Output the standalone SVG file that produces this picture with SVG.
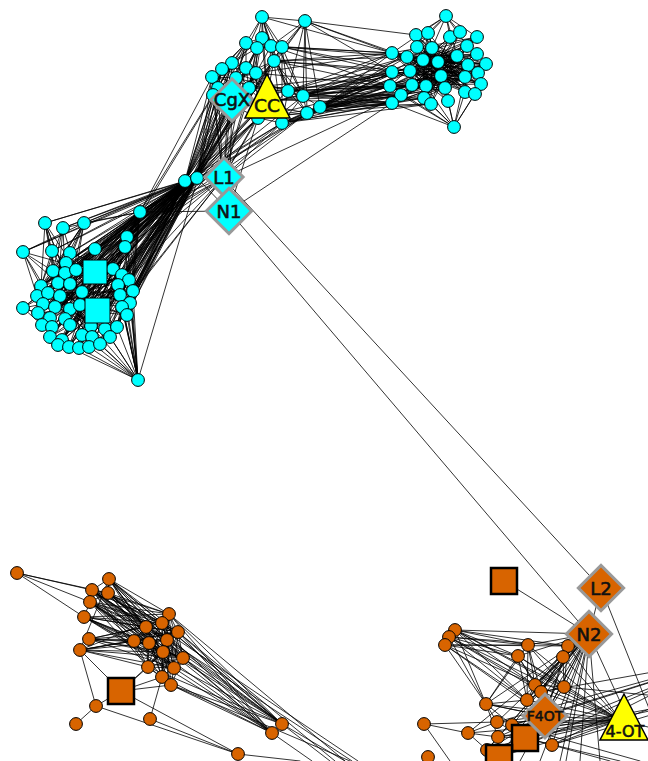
<svg xmlns="http://www.w3.org/2000/svg" width="648" height="761" viewBox="0 0 648 761">
<style>
.e{fill:none;stroke:#000;stroke-width:0.8;stroke-linecap:round}
.cy circle{fill:#00ffff;stroke:#000;stroke-width:1;r:6.4px}
.or circle{fill:#d86400;stroke:#000;stroke-width:1;r:6.4px}
.dc{fill:#00ffff;stroke:#999;stroke-width:3}
.do{fill:#d86400;stroke:#999;stroke-width:3}
.sc{fill:#00ffff;stroke:#000;stroke-width:1}
.so{fill:#d86400;stroke:#000;stroke-width:2.5}
.tri{fill:#ffff00;stroke:#000;stroke-width:1.5}
.lb{font-family:"DejaVu Sans","Liberation Sans",sans-serif;fill:#111;stroke:#111;stroke-width:0.6;text-anchor:middle}
</style>
<rect width="648" height="761" fill="#fff"/>
<g id="connectors">
<!-- upper-middle cluster -->
<path class="e" d="M262 17L305 21M262 17L262 38M262 17L246 43M262 17L271 46M262 17L282 47M262 17L274 61M262 17L249 88M262 17L288 91M262 17L303 96M262 17L267 90M305 21L282 47M305 21L274 61M305 21L288 91M305 21L303 96M305 21L320 107M305 21L307 113M305 21L271 46M262 38L246 43M262 38L257 48M262 38L271 46M262 38L232 63M262 38L246 68M262 38L256 73M262 38L249 88M262 38L267 95M246 43L257 48M246 43L232 63M246 43L222 69M246 43L246 68M246 43L212 77M246 43L213 95M246 43L232 100M257 48L271 46M257 48L282 47M257 48L246 68M257 48L256 73M257 48L249 88M257 48L232 63M271 46L282 47M271 46L274 61M271 46L256 73M271 46L288 91M271 46L267 95M282 47L274 61M282 47L288 91M282 47L303 96M282 47L282 123M274 61L256 73M274 61L249 88M274 61L288 91M274 61L303 96M274 61L307 113M274 61L282 123M274 61L267 95M232 63L222 69M232 63L246 68M232 63L212 77M232 63L218 88M232 63L213 95M232 63L232 100M232 63L249 88M222 69L212 77M222 69L218 88M222 69L213 95M222 69L246 68M222 69L232 100M246 68L256 73M246 68L249 88M246 68L218 88M246 68L213 95M246 68L232 100M246 68L267 95M256 73L249 88M256 73L267 95M256 73L258 118M256 73L232 100M212 77L213 95M212 77L218 88M212 77L232 100M213 95L232 100M213 95L218 88M213 95L258 118M249 88L288 91M249 88L258 118M249 88L282 123M249 88L267 95M288 91L303 96M288 91L307 113M288 91L282 123M288 91L267 95M303 96L320 107M303 96L307 113M303 96L282 123M320 107L307 113M320 107L282 123M307 113L282 123M307 113L258 118M282 123L258 118M282 123L267 100M232 100L267 100M236 78L212 77M236 78L256 73M236 78L246 43M236 78L274 61M236 78L288 91M212 77L303 96M213 95L307 113M222 69L288 91"/>
<!-- bundle between the two upper clusters -->
<path class="e" d="M320 107L392 53M320 107L407 57M320 107L392 72M320 107L410 71M320 107L390 86M320 107L412 85M320 107L401 95M320 107L392 103M320 107L424 98M320 107L431 104M303 96L392 53M303 96L392 72M303 96L390 86M303 96L401 95M303 96L392 103M303 96L410 71M303 96L423 60M307 113L392 72M307 113L390 86M307 113L401 95M307 113L392 103M307 113L412 85M307 113L424 98M307 113L441 76M288 91L392 53M288 91L392 72M288 91L390 86M288 91L401 95M288 91L426 86M282 123L390 86M282 123L392 103M282 123L401 95M282 123L431 104M282 123L392 72M282 47L392 53M282 47L407 57M282 47L392 72M274 61L392 53M274 61L392 72M274 61L390 86M274 61L407 57M280 100L392 72M280 100L390 86M280 100L401 95M249 88L392 72M249 88L390 86M256 73L392 53M256 73L390 86M305 21L392 53M305 21L416 35M305 21L407 57M305 21L392 72M262 17L392 53M320 107L438 62M320 107L445 88M320 107L426 86M320 107L423 60M303 96L412 85M303 96L424 98M303 96L441 76M307 113L410 71M307 113L431 104M307 113L426 86M288 91L410 71M288 91L412 85M288 91L392 103M288 91L407 57M282 123L412 85M282 123L424 98M280 100L392 103M280 100L410 71M258 118L390 86M258 118L401 95M258 118L392 103M274 61L410 71M282 47L410 71M271 46L392 53M271 46L390 86M303 96L407 57M320 107L417 47"/>
<!-- upper-right cluster -->
<path class="e" d="M446 16L416 35M446 16L428 33M446 16L450 37M446 16L460 32M446 16L477 37M446 16L417 47M446 16L432 48M446 16L467 46M446 16L392 53M446 16L457 56M454 127L390 86M454 127L401 95M454 127L424 98M454 127L392 103M454 127L431 104M454 127L448 101M454 127L445 88M454 127L465 92M454 127L475 94M454 127L426 86M454 127L465 77M454 127L481 84M438 62L416 35M438 62L428 33M438 62L450 37M438 62L460 32M438 62L477 37M438 62L417 47M438 62L432 48M438 62L467 46M438 62L477 54M438 62L486 64M438 62L392 53M438 62L407 57M438 62L468 65M438 62L392 72M438 62L465 77M438 62L478 73M438 62L481 84M438 62L390 86M438 62L412 85M438 62L465 92M438 62L475 94M438 62L401 95M438 62L392 103M438 62L448 101M441 76L416 35M441 76L428 33M441 76L460 32M441 76L477 37M441 76L417 47M441 76L467 46M441 76L477 54M441 76L486 64M441 76L392 53M441 76L407 57M441 76L468 65M441 76L392 72M441 76L478 73M441 76L481 84M441 76L390 86M441 76L412 85M441 76L475 94M441 76L401 95M441 76L424 98M441 76L392 103M441 76L431 104M441 76L448 101M445 88L416 35M445 88L417 47M445 88L432 48M445 88L457 56M445 88L467 46M445 88L477 54M445 88L486 64M445 88L392 53M445 88L407 57M445 88L423 60M445 88L392 72M445 88L410 71M445 88L478 73M445 88L390 86M445 88L401 95M445 88L392 103M423 60L428 33M423 60L450 37M423 60L477 37M423 60L457 56M423 60L467 46M423 60L477 54M423 60L486 64M423 60L468 65M423 60L465 77M423 60L478 73M423 60L481 84M423 60L426 86M423 60L465 92M423 60L475 94M423 60L424 98M423 60L431 104M457 56L416 35M457 56L417 47M457 56L392 53M457 56L407 57M457 56L392 72M457 56L410 71M457 56L390 86M457 56L412 85M457 56L426 86M457 56L401 95M457 56L424 98M457 56L392 103M457 56L431 104M410 71L450 37M410 71L460 32M410 71L477 37M410 71L467 46M410 71L477 54M410 71L486 64M410 71L468 65M410 71L465 77M410 71L478 73M410 71L481 84M410 71L465 92M410 71L475 94M410 71L448 101M392 53L477 37M392 53L486 64M392 53L481 84M390 86L486 64M390 86L481 84M390 86L477 54M392 103L478 73M392 103L477 54M401 95L486 64M424 98L477 37M416 35L475 94M428 33L448 101M432 48L465 92M407 57L478 73M432 48L392 72M432 48L390 86M432 48L412 85M432 48L426 86M432 48L445 88M432 48L475 94M432 48L481 84M432 48L478 73M432 48L468 65M432 48L486 64M432 48L401 95M432 48L424 98M432 48L431 104M432 48L448 101M426 86L416 35M426 86L428 33M426 86L450 37M426 86L460 32M426 86L477 37M426 86L467 46M426 86L477 54M426 86L486 64M426 86L468 65M426 86L478 73M426 86L392 53M426 86L407 57M465 77L416 35M465 77L417 47M465 77L392 53M465 77L407 57M465 77L392 72M465 77L390 86M465 77L412 85M465 77L401 95M465 77L392 103M465 77L424 98M465 77L428 33M407 57L477 37M407 57L477 54M407 57L486 64M407 57L468 65M407 57L481 84M407 57L465 92M407 57L475 94M407 57L448 101M407 57L431 104"/>
<!-- neck: hubs, L1 and N1 -->
<path class="e" d="M185 181L232 63M185 181L222 69M185 181L212 77M185 181L213 95M185 181L218 88M185 181L232 100M185 181L246 68M185 181L249 88M185 181L258 118M185 181L256 73M185 181L267 100M185 181L236 78M185 181L246 43M185 181L282 123M197 178L232 63M197 178L222 69M197 178L212 77M197 178L213 95M197 178L218 88M197 178L232 100M197 178L246 68M197 178L249 88M197 178L258 118M197 178L256 73M197 178L267 100M197 178L236 78M197 178L262 38M197 178L274 61M185 181L197 178M185 181L140 212M185 181L45 223M185 181L63 228M185 181L84 223M185 181L127 237M185 181L125 247M185 181L23 252M185 181L52 251M185 181L95 249M185 181L70 253M185 181L66 263M185 181L23 308M185 181L53 271M185 181L65 273M185 181L76 270M185 181L113 269M185 181L122 275M185 181L41 286M185 181L58 283M185 181L70 284M185 181L129 280M185 181L118 285M185 181L37 296M185 181L48 293M185 181L60 296M185 181L82 292M185 181L133 291M185 181L120 295M185 181L43 304M185 181L55 307M185 181L70 309M185 181L130 303M185 181L122 307M185 181L38 313M185 181L50 318M185 181L65 319M185 181L127 315M185 181L42 325M185 181L52 327M185 181L70 325M185 181L91 326M185 181L105 329M185 181L117 327M185 181L50 337M185 181L62 340M185 181L82 335M185 181L92 337M185 181L110 337M185 181L58 345M185 181L69 347M185 181L79 348M185 181L89 347M185 181L100 344M185 181L95 272M185 181L97 310M197 178L140 212M197 178L45 223M197 178L63 228M197 178L84 223M197 178L127 237M197 178L125 247M197 178L23 252M197 178L52 251M197 178L95 249M197 178L70 253M197 178L66 263M197 178L53 271M197 178L65 273M197 178L76 270M197 178L113 269M197 178L122 275M197 178L41 286M197 178L58 283M197 178L70 284M197 178L129 280M197 178L118 285M197 178L37 296M197 178L48 293M197 178L82 292M197 178L133 291M197 178L120 295M197 178L43 304M197 178L55 307M197 178L130 303M197 178L122 307M197 178L38 313M197 178L50 318M197 178L127 315M197 178L42 325M197 178L91 326M197 178L117 327M197 178L50 337M197 178L82 335M197 178L110 337M197 178L58 345M197 178L69 347M197 178L89 347M197 178L100 344M197 178L95 272M197 178L97 310M223 178L232 63M223 178L212 77M223 178L213 95M223 178L218 88M223 178L232 100M223 178L246 68M223 178L249 88M223 178L258 118M223 178L267 100M223 178L282 123M223 178L256 73M223 178L307 113M223 178L140 212M223 178L127 237M223 178L125 247M223 178L95 249M223 178L113 269M223 178L129 280M223 178L401 95M223 178L133 291M223 178L122 307M229 211L223 178M229 211L392 103M229 211L232 100M229 211L258 118M229 211L140 212M229 211L197 178M223 178L601 588M229 211L589 634M282 123L140 212M282 123L127 237M320 107L140 212M303 96L127 237M267 100L125 247M267 100L113 269M258 118L113 269M258 118L122 275M258 118L125 247M307 113L140 212M307 113L127 237M288 91L127 237M274 61L122 275M249 88L120 295M246 68L117 327M232 100L110 337M256 73L122 307M256 73L130 303M262 38L127 315M282 47L118 285M282 47L120 295M305 21L122 275M262 17L117 327M232 63L138 380M212 77L140 212M213 95L140 212M218 88L127 237"/>
<!-- left cluster -->
<path class="e" d="M140 212L53 271M140 212L41 286M140 212L37 296M140 212L43 304M140 212L38 313M140 212L42 325M140 212L50 337M140 212L58 345M140 212L69 347M140 212L79 348M140 212L89 347M140 212L100 344M140 212L110 337M140 212L117 327M140 212L127 315M140 212L130 303M140 212L133 291M140 212L129 280M140 212L122 275M140 212L113 269M140 212L76 270M140 212L65 273M140 212L58 283M140 212L48 293M140 212L55 307M140 212L50 318M140 212L62 340M140 212L91 326M140 212L84 223M140 212L63 228M140 212L127 237M140 212L125 247M140 212L95 249M127 237L41 286M127 237L37 296M127 237L43 304M127 237L38 313M127 237L42 325M127 237L50 337M127 237L58 345M127 237L69 347M127 237L79 348M127 237L53 271M127 237L48 293M127 237L50 318M125 247L37 296M125 247L42 325M125 247L50 337M125 247L62 340M125 247L89 347M125 247L100 344M125 247L52 327M125 247L55 307M138 380L100 344M138 380L110 337M138 380L117 327M138 380L127 315M138 380L130 303M138 380L133 291M138 380L122 307M138 380L89 347M138 380L105 329M138 380L92 337M138 380L82 335M138 380L129 280M138 380L120 295M138 380L118 285M138 380L122 275M138 380L113 269M138 380L79 348M138 380L69 347M138 380L91 326M138 380L125 247M138 380L127 237M95 272L41 286M95 272L37 296M95 272L38 313M95 272L42 325M95 272L50 337M95 272L58 345M95 272L69 347M95 272L89 347M95 272L110 337M95 272L127 315M95 272L133 291M95 272L23 252M97 310L53 271M97 310L41 286M97 310L37 296M97 310L43 304M97 310L38 313M97 310L50 337M97 310L58 345M97 310L65 273M97 310L76 270M97 310L113 269M97 310L122 275M97 310L129 280M82 292L53 271M82 292L37 296M82 292L42 325M82 292L50 337M82 292L100 344M82 292L117 327M82 292L130 303M82 292L129 280M82 292L65 273M82 292L122 275M70 309L53 271M70 309L76 270M70 309L113 269M70 309L122 275M70 309L133 291M70 309L127 315M70 309L110 337M70 309L100 344M70 309L41 286M70 309L38 313M58 283L100 344M58 283L117 327M58 283L130 303M58 283L89 347M58 283L129 280M91 326L41 286M91 326L53 271M91 326L37 296M91 326L113 269M91 326L129 280M84 223L53 271M84 223L41 286M84 223L65 273M84 223L76 270M84 223L58 283M84 223L48 293M84 223L37 296M84 223L70 284M84 223L23 252M45 223L53 271M45 223L41 286M45 223L65 273M45 223L58 283M45 223L76 270M45 223L70 284M45 223L52 251M63 228L53 271M63 228L65 273M63 228L41 286M63 228L76 270M63 228L58 283M23 252L53 271M23 252L41 286M23 252L37 296M23 252L58 283M23 252L48 293M23 308L37 296M23 308L43 304M23 308L38 313M23 308L42 325M23 308L48 293M23 308L50 318M52 251L53 271M52 251L65 273M52 251L41 286M52 251L76 270M95 249L53 271M95 249L65 273M95 249L76 270M95 249L41 286M95 249L58 283M95 249L113 269M70 253L41 286M70 253L53 271M70 253L37 296M70 253L113 269M66 263L41 286M66 263L37 296M66 263L113 269M60 296L122 307M60 296L127 315M48 293L133 291M55 307L122 275M65 319L129 280M62 340L120 295M80 305L118 285M70 325L133 291M43 304L130 303M50 318L118 285M42 325L122 275M52 327L113 269M69 347L118 285M79 348L129 280M105 329L41 286M92 337L48 293M37 296L133 291M41 286L127 315M38 313L122 275M50 337L129 280M58 345L113 269M43 304L117 327M48 293L110 337M53 271L100 344M65 273L89 347M76 270L79 348"/>
<!-- lower-left cluster -->
<path class="e" d="M17 573L92 590M17 573L90 602M17 573L84 617M17 573L108 593M109 579L169 614M109 579L162 623M109 579L146 627M109 579L178 632M109 579L149 643M109 579L167 640M109 579L163 652M109 579L183 658M109 579L174 668M109 579L282 724M109 579L272 733M109 579L92 590M109 579L108 593M92 590L169 614M92 590L162 623M92 590L146 627M92 590L178 632M92 590L134 641M92 590L149 643M92 590L167 640M92 590L163 652M92 590L183 658M92 590L148 667M92 590L174 668M92 590L282 724M92 590L272 733M92 590L108 593M92 590L90 602M108 593L169 614M108 593L162 623M108 593L146 627M108 593L178 632M108 593L149 643M108 593L167 640M108 593L183 658M108 593L174 668M108 593L282 724M108 593L272 733M108 593L90 602M90 602L169 614M90 602L162 623M90 602L146 627M90 602L178 632M90 602L134 641M90 602L149 643M90 602L167 640M90 602L163 652M90 602L183 658M90 602L174 668M90 602L148 667M90 602L282 724M90 602L272 733M90 602L84 617M84 617L169 614M84 617L162 623M84 617L146 627M84 617L178 632M84 617L134 641M84 617L149 643M84 617L163 652M84 617L183 658M84 617L174 668M84 617L272 733M169 614L162 623M169 614L146 627M169 614L178 632M169 614L149 643M169 614L167 640M169 614L163 652M169 614L183 658M169 614L174 668M169 614L282 724M169 614L272 733M162 623L146 627M162 623L178 632M162 623L134 641M162 623L149 643M162 623L167 640M162 623L163 652M162 623L183 658M162 623L148 667M162 623L174 668M162 623L162 677M162 623L282 724M146 627L178 632M146 627L134 641M146 627L149 643M146 627L167 640M146 627L163 652M146 627L148 667M146 627L174 668M146 627L162 677M146 627L171 685M178 632L134 641M178 632L149 643M178 632L167 640M178 632L163 652M178 632L183 658M178 632L148 667M178 632L174 668M178 632L162 677M178 632L282 724M178 632L272 733M134 641L149 643M134 641L167 640M134 641L163 652M134 641L183 658M134 641L148 667M134 641L174 668M134 641L162 677M134 641L89 639M134 641L80 650M149 643L167 640M149 643L163 652M149 643L183 658M149 643L148 667M149 643L174 668M149 643L162 677M149 643L171 685M167 640L163 652M167 640L183 658M167 640L148 667M167 640L174 668M167 640L162 677M167 640L171 685M167 640L282 724M163 652L183 658M163 652L148 667M163 652L174 668M163 652L162 677M163 652L171 685M183 658L148 667M183 658L174 668M183 658L162 677M183 658L171 685M183 658L282 724M183 658L272 733M148 667L174 668M148 667L162 677M148 667L171 685M174 668L162 677M174 668L171 685M174 668L272 733M162 677L171 685M162 677L150 719M89 639L146 627M89 639L149 643M89 639L167 640M89 639L163 652M89 639L183 658M89 639L174 668M89 639L178 632M89 639L162 623M80 650L134 641M80 650L149 643M80 650L163 652M80 650L183 658M80 650L174 668M80 650L148 667M80 650L178 632M80 650L121 691M80 650L96 706M80 650L169 614M121 691L162 677M121 691L171 685M121 691L148 667M121 691L238 754M121 691L96 706M121 691L163 652M96 706L76 724M96 706L238 754M150 719L238 754M171 685L272 733M171 685L282 724M171 685L350 761M282 724L345 761M282 724L330 761M272 733L312 761M92 590L352 761M108 593L358 761M169 614L345 761M178 632L335 761M238 754L300 761M84 617L282 724M109 579L80 650M162 677L272 733M148 667L282 724"/>
<!-- lower-right cluster -->
<path class="e" d="M504 581L589 634M601 588L589 634M601 588L670 761M589 634L568 646M589 634L563 657M589 634L564 687M589 634L535 685M589 634L541 692M589 634L527 700M589 634L545 716M589 634L497 722M589 634L512 725M589 634L498 737M589 634L552 745M589 634L525 738M589 634L499 757M589 634L487 750M589 634L468 733M589 634L624 710M589 634L528 645M589 634L518 656M589 634L486 704M589 634L520 761M589 634L540 761M589 634L560 761M589 634L580 761M589 634L600 761M589 634L566 761M455 630L528 645M455 630L518 656M455 630L486 704M455 630L527 700M455 630L535 685M455 630L568 646M449 637L528 645M449 637L518 656M449 637L486 704M449 637L527 700M449 637L535 685M449 637L568 646M445 645L528 645M445 645L518 656M445 645L486 704M445 645L527 700M445 645L535 685M445 645L568 646M528 645L518 656M528 645L486 704M528 645L527 700M528 645L535 685M528 645L541 692M528 645L564 687M528 645L620 720M518 656L486 704M518 656L527 700M518 656L535 685M518 656L541 692M518 656L564 687M518 656L620 720M568 646L563 657M568 646L564 687M568 646L535 685M568 646L541 692M568 646L527 700M568 646L620 720M568 646L545 716M563 657L564 687M563 657L535 685M563 657L541 692M563 657L545 716M563 657L620 720M563 657L527 700M486 704L527 700M486 704L497 722M486 704L512 725M486 704L498 737M486 704L545 716M424 724L468 733M424 724L497 722M424 724L450 761M468 733L497 722M468 733L498 737M468 733L487 750M620 720L545 716M620 720L525 738M620 720L552 745M620 720L512 725M620 720L497 722M620 720L498 737M620 720L541 692M620 720L535 685M620 720L527 700M620 720L564 687M620 720L486 704M620 720L499 757M620 720L487 750M620 720L468 733M620 720L455 630M620 720L449 637M620 720L700 690M620 720L700 740M620 720L690 770M545 716L527 700M545 716L541 692M545 716L535 685M545 716L564 687M545 716L512 725M545 716L497 722M545 716L498 737M545 716L525 738M545 716L552 745M545 716L499 757M545 716L487 750M545 716L486 704M564 687L535 685M541 692L527 700M535 685L527 700M564 687L541 692M525 738L497 722M525 738L512 725M525 738L498 737M525 738L552 745M525 738L499 757M525 738L487 750M487 750L498 737M487 750L499 757M525 738L720 660M552 745L720 660M545 716L720 660M541 692L720 660M512 725L720 660M499 757L720 660M552 745L700 700M525 738L700 700M564 687L700 700M552 745L610 761M525 738L620 761M512 725L640 761M455 630L564 687M449 637L541 692M445 645L545 716M589 634L455 630M497 722L720 660M498 737L700 700"/>
</g>
<g class="cy" id="cluster-top">
<g id="t01"><circle cx="262" cy="17" r="6.4"/></g>
<g id="t02"><circle cx="305" cy="21" r="6.4"/></g>
<g id="t03"><circle cx="262" cy="38" r="6.4"/></g>
<g id="t04"><circle cx="246" cy="43" r="6.4"/></g>
<g id="t05"><circle cx="257" cy="48" r="6.4"/></g>
<g id="t06"><circle cx="271" cy="46" r="6.4"/></g>
<g id="t07"><circle cx="282" cy="47" r="6.4"/></g>
<g id="t08"><circle cx="274" cy="61" r="6.4"/></g>
<g id="t09"><circle cx="232" cy="63" r="6.4"/></g>
<g id="t10"><circle cx="222" cy="69" r="6.4"/></g>
<g id="t11"><circle cx="246" cy="68" r="6.4"/></g>
<g id="t12"><circle cx="256" cy="73" r="6.4"/></g>
<g id="t13"><circle cx="212" cy="77" r="6.4"/></g>
<g id="t14"><circle cx="236" cy="78" r="6.4"/></g>
<g id="t15"><circle cx="218" cy="88" r="6.4"/></g>
<g id="t16"><circle cx="213" cy="95" r="6.4"/></g>
<g id="t17"><circle cx="249" cy="88" r="6.4"/></g>
<g id="t18"><circle cx="288" cy="91" r="6.4"/></g>
<g id="t19"><circle cx="303" cy="96" r="6.4"/></g>
<g id="t20"><circle cx="320" cy="107" r="6.4"/></g>
<g id="t21"><circle cx="307" cy="113" r="6.4"/></g>
<g id="t22"><circle cx="282" cy="123" r="6.4"/></g>
<g id="t23"><circle cx="258" cy="118" r="6.4"/></g>
</g>
<g class="cy" id="cluster-right">
<g id="r01"><circle cx="446" cy="16" r="6.4"/></g>
<g id="r02"><circle cx="416" cy="35" r="6.4"/></g>
<g id="r03"><circle cx="428" cy="33" r="6.4"/></g>
<g id="r04"><circle cx="450" cy="37" r="6.4"/></g>
<g id="r05"><circle cx="460" cy="32" r="6.4"/></g>
<g id="r06"><circle cx="477" cy="37" r="6.4"/></g>
<g id="r07"><circle cx="417" cy="47" r="6.4"/></g>
<g id="r08"><circle cx="432" cy="48" r="6.4"/></g>
<g id="r09"><circle cx="457" cy="56" r="6.4"/></g>
<g id="r10"><circle cx="467" cy="46" r="6.4"/></g>
<g id="r11"><circle cx="477" cy="54" r="6.4"/></g>
<g id="r12"><circle cx="486" cy="64" r="6.4"/></g>
<g id="r13"><circle cx="392" cy="53" r="6.4"/></g>
<g id="r14"><circle cx="407" cy="57" r="6.4"/></g>
<g id="r15"><circle cx="423" cy="60" r="6.4"/></g>
<g id="r16"><circle cx="438" cy="62" r="6.4"/></g>
<g id="r17"><circle cx="468" cy="65" r="6.4"/></g>
<g id="r18"><circle cx="392" cy="72" r="6.4"/></g>
<g id="r19"><circle cx="410" cy="71" r="6.4"/></g>
<g id="r20"><circle cx="441" cy="76" r="6.4"/></g>
<g id="r21"><circle cx="465" cy="77" r="6.4"/></g>
<g id="r22"><circle cx="478" cy="73" r="6.4"/></g>
<g id="r23"><circle cx="481" cy="84" r="6.4"/></g>
<g id="r24"><circle cx="390" cy="86" r="6.4"/></g>
<g id="r25"><circle cx="412" cy="85" r="6.4"/></g>
<g id="r26"><circle cx="426" cy="86" r="6.4"/></g>
<g id="r27"><circle cx="445" cy="88" r="6.4"/></g>
<g id="r28"><circle cx="465" cy="92" r="6.4"/></g>
<g id="r29"><circle cx="475" cy="94" r="6.4"/></g>
<g id="r30"><circle cx="401" cy="95" r="6.4"/></g>
<g id="r31"><circle cx="424" cy="98" r="6.4"/></g>
<g id="r32"><circle cx="392" cy="103" r="6.4"/></g>
<g id="r33"><circle cx="431" cy="104" r="6.4"/></g>
<g id="r34"><circle cx="448" cy="101" r="6.4"/></g>
<g id="r35"><circle cx="454" cy="127" r="6.4"/></g>
</g>
<g class="cy" id="cluster-left">
<g id="h01"><circle cx="185" cy="181" r="6.4"/></g>
<g id="h02"><circle cx="197" cy="178" r="6.4"/></g>
<g id="l01"><circle cx="140" cy="212" r="6.4"/></g>
<g id="l02"><circle cx="45" cy="223" r="6.4"/></g>
<g id="l03"><circle cx="63" cy="228" r="6.4"/></g>
<g id="l04"><circle cx="84" cy="223" r="6.4"/></g>
<g id="l05"><circle cx="127" cy="237" r="6.4"/></g>
<g id="l06"><circle cx="125" cy="247" r="6.4"/></g>
<g id="l07"><circle cx="23" cy="252" r="6.4"/></g>
<g id="l08"><circle cx="52" cy="251" r="6.4"/></g>
<g id="l09"><circle cx="95" cy="249" r="6.4"/></g>
<g id="l10"><circle cx="70" cy="253" r="6.4"/></g>
<g id="l11"><circle cx="66" cy="263" r="6.4"/></g>
<g id="l12"><circle cx="23" cy="308" r="6.4"/></g>
<g id="l13"><circle cx="138" cy="380" r="6.4"/></g>
<g id="l14"><circle cx="53" cy="271" r="6.4"/></g>
<g id="l15"><circle cx="65" cy="273" r="6.4"/></g>
<g id="l16"><circle cx="76" cy="270" r="6.4"/></g>
<g id="l17"><circle cx="113" cy="269" r="6.4"/></g>
<g id="l18"><circle cx="122" cy="275" r="6.4"/></g>
<g id="l19"><circle cx="41" cy="286" r="6.4"/></g>
<g id="l20"><circle cx="58" cy="283" r="6.4"/></g>
<g id="l21"><circle cx="70" cy="284" r="6.4"/></g>
<g id="l22"><circle cx="129" cy="280" r="6.4"/></g>
<g id="l23"><circle cx="118" cy="285" r="6.4"/></g>
<g id="l24"><circle cx="37" cy="296" r="6.4"/></g>
<g id="l25"><circle cx="48" cy="293" r="6.4"/></g>
<g id="l26"><circle cx="60" cy="296" r="6.4"/></g>
<g id="l27"><circle cx="82" cy="292" r="6.4"/></g>
<g id="l28"><circle cx="133" cy="291" r="6.4"/></g>
<g id="l29"><circle cx="120" cy="295" r="6.4"/></g>
<g id="l30"><circle cx="43" cy="304" r="6.4"/></g>
<g id="l31"><circle cx="55" cy="307" r="6.4"/></g>
<g id="l32"><circle cx="70" cy="309" r="6.4"/></g>
<g id="l33"><circle cx="80" cy="305" r="6.4"/></g>
<g id="l34"><circle cx="130" cy="303" r="6.4"/></g>
<g id="l35"><circle cx="122" cy="307" r="6.4"/></g>
<g id="l36"><circle cx="38" cy="313" r="6.4"/></g>
<g id="l37"><circle cx="50" cy="318" r="6.4"/></g>
<g id="l38"><circle cx="65" cy="319" r="6.4"/></g>
<g id="l39"><circle cx="127" cy="315" r="6.4"/></g>
<g id="l40"><circle cx="42" cy="325" r="6.4"/></g>
<g id="l41"><circle cx="52" cy="327" r="6.4"/></g>
<g id="l42"><circle cx="70" cy="325" r="6.4"/></g>
<g id="l43"><circle cx="91" cy="326" r="6.4"/></g>
<g id="l44"><circle cx="105" cy="329" r="6.4"/></g>
<g id="l45"><circle cx="117" cy="327" r="6.4"/></g>
<g id="l46"><circle cx="50" cy="337" r="6.4"/></g>
<g id="l47"><circle cx="62" cy="340" r="6.4"/></g>
<g id="l48"><circle cx="82" cy="335" r="6.4"/></g>
<g id="l49"><circle cx="92" cy="337" r="6.4"/></g>
<g id="l50"><circle cx="110" cy="337" r="6.4"/></g>
<g id="l51"><circle cx="58" cy="345" r="6.4"/></g>
<g id="l52"><circle cx="69" cy="347" r="6.4"/></g>
<g id="l53"><circle cx="79" cy="348" r="6.4"/></g>
<g id="l54"><circle cx="89" cy="347" r="6.4"/></g>
<g id="l55"><circle cx="100" cy="344" r="6.4"/></g>
</g>
<g id="sq-l1"><rect class="sc" x="83" y="260" width="24" height="24"/></g>
<g id="sq-l2"><rect class="sc" x="85" y="298" width="25" height="25"/></g>
<g id="CgX"><rect class="dc" x="-15" y="-15" width="30" height="30" transform="translate(232 100) rotate(45)"/><text class="lb" x="232" y="106" font-size="18">CgX</text></g>
<g id="CC"><polygon class="tri" points="267,74 245,118 290,118"/><text class="lb" x="267" y="112" font-size="18.5">CC</text></g>
<g id="L1"><rect class="dc" x="-13.5" y="-13.5" width="27" height="27" transform="translate(224 177) rotate(45)"/><text class="lb" x="224" y="184" font-size="18">L1</text></g>
<g id="N1"><rect class="dc" x="-16" y="-16" width="32" height="32" transform="translate(229 211) rotate(45)"/><text class="lb" x="229" y="218" font-size="18">N1</text></g>
<g class="or" id="cluster-bottom-left">
<g id="b01"><circle cx="17" cy="573" r="6.4"/></g>
<g id="b02"><circle cx="109" cy="579" r="6.4"/></g>
<g id="b03"><circle cx="92" cy="590" r="6.4"/></g>
<g id="b04"><circle cx="108" cy="593" r="6.4"/></g>
<g id="b05"><circle cx="90" cy="602" r="6.4"/></g>
<g id="b06"><circle cx="84" cy="617" r="6.4"/></g>
<g id="b07"><circle cx="169" cy="614" r="6.4"/></g>
<g id="b08"><circle cx="162" cy="623" r="6.4"/></g>
<g id="b09"><circle cx="146" cy="627" r="6.4"/></g>
<g id="b10"><circle cx="178" cy="632" r="6.4"/></g>
<g id="b11"><circle cx="89" cy="639" r="6.4"/></g>
<g id="b12"><circle cx="134" cy="641" r="6.4"/></g>
<g id="b13"><circle cx="149" cy="643" r="6.4"/></g>
<g id="b14"><circle cx="167" cy="640" r="6.4"/></g>
<g id="b15"><circle cx="80" cy="650" r="6.4"/></g>
<g id="b16"><circle cx="163" cy="652" r="6.4"/></g>
<g id="b17"><circle cx="183" cy="658" r="6.4"/></g>
<g id="b18"><circle cx="148" cy="667" r="6.4"/></g>
<g id="b19"><circle cx="174" cy="668" r="6.4"/></g>
<g id="b20"><circle cx="162" cy="677" r="6.4"/></g>
<g id="b21"><circle cx="171" cy="685" r="6.4"/></g>
<g id="b22"><circle cx="96" cy="706" r="6.4"/></g>
<g id="b23"><circle cx="76" cy="724" r="6.4"/></g>
<g id="b24"><circle cx="150" cy="719" r="6.4"/></g>
<g id="b25"><circle cx="282" cy="724" r="6.4"/></g>
<g id="b26"><circle cx="272" cy="733" r="6.4"/></g>
<g id="b27"><circle cx="238" cy="754" r="6.4"/></g>
</g>
<g id="sq-b1"><rect class="so" x="108" y="678" width="26" height="26"/></g>
<g class="or" id="cluster-bottom-right">
<g id="c01"><circle cx="455" cy="630" r="6.4"/></g>
<g id="c02"><circle cx="449" cy="637" r="6.4"/></g>
<g id="c03"><circle cx="445" cy="645" r="6.4"/></g>
<g id="c04"><circle cx="528" cy="645" r="6.4"/></g>
<g id="c05"><circle cx="518" cy="656" r="6.4"/></g>
<g id="c06"><circle cx="568" cy="646" r="6.4"/></g>
<g id="c07"><circle cx="563" cy="657" r="6.4"/></g>
<g id="c08"><circle cx="564" cy="687" r="6.4"/></g>
<g id="c09"><circle cx="535" cy="685" r="6.4"/></g>
<g id="c10"><circle cx="541" cy="692" r="6.4"/></g>
<g id="c11"><circle cx="527" cy="700" r="6.4"/></g>
<g id="c12"><circle cx="486" cy="704" r="6.4"/></g>
<g id="c13"><circle cx="424" cy="724" r="6.4"/></g>
<g id="c14"><circle cx="468" cy="733" r="6.4"/></g>
<g id="c15"><circle cx="497" cy="722" r="6.4"/></g>
<g id="c16"><circle cx="512" cy="725" r="6.4"/></g>
<g id="c17"><circle cx="498" cy="737" r="6.4"/></g>
<g id="c18"><circle cx="552" cy="745" r="6.4"/></g>
<g id="c19"><circle cx="487" cy="750" r="6.4"/></g>
<g id="c20"><circle cx="428" cy="757" r="6.4"/></g>
</g>
<g id="sq-c1"><rect class="so" x="491" y="568" width="26" height="26"/></g>
<g id="sq-c2"><rect class="so" x="512" y="725" width="26" height="26"/></g>
<g id="sq-c3"><rect class="so" x="486" y="745" width="26" height="26"/></g>
<g id="L2"><rect class="do" x="-16" y="-16" width="32" height="32" transform="translate(601 588) rotate(45)"/><text class="lb" x="601" y="594.5" font-size="18">L2</text></g>
<g id="N2"><rect class="do" x="-16" y="-16" width="32" height="32" transform="translate(589 634) rotate(45)"/><text class="lb" x="589" y="640.5" font-size="18">N2</text></g>
<g id="F4OT"><rect class="do" x="-15.5" y="-15.5" width="31" height="31" transform="translate(545 716) rotate(45)"/><text class="lb" x="545" y="721" font-size="14">F4OT</text></g>
<g id="OT4"><polygon class="tri" points="624,694 600,740 648,740"/><text class="lb" x="625" y="737" font-size="16">4-OT</text></g>
</svg>
